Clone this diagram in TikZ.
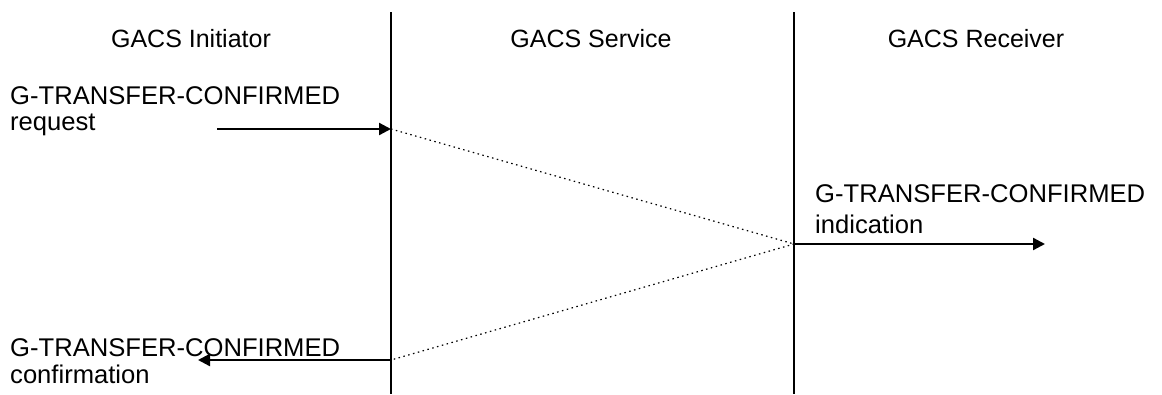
\documentclass[tikz,border=0pt]{standalone}
\usepackage{fontspec}
\setmainfont{Liberation Sans}
\usetikzlibrary{arrows.meta}
\begin{document}
\begin{tikzpicture}[x=1pt,y=-1pt,
  lbl/.style={inner sep=0pt,anchor=base west,font=\fontsize{25.6}{30}\selectfont},
  hdr/.style={inner sep=0pt,anchor=base,font=\fontsize{25}{30}\selectfont},
  life/.style={line width=2.3pt},
  msg/.style={line width=2.3pt,-{Triangle[length=12pt,width=12pt]}},
  dot/.style={line width=1.2pt,dash pattern=on 1.5pt off 3.5pt}]
\useasboundingbox (0,0) rectangle (1162,394);
% lifelines
\coordinate (iT) at (391,12);
\coordinate (iB) at (391,394);
\coordinate (rT) at (794,12);
\coordinate (rB) at (794,394);
\draw[life] (iT) -- (iB);
\draw[life] (rT) -- (rB);
% headers
\node[hdr] (hI) at (191,47) {GACS Initiator};
\node[hdr] (hS) at (591,47) {GACS Service};
\node[hdr] (hR) at (976,47) {GACS Receiver};
% labels
\node[lbl] (t1) at (10,104) {G-TRANSFER-CONFIRMED};
\node[lbl] (t1b) at (10,130) {request};
\node[lbl] (t2) at (815,202) {G-TRANSFER-CONFIRMED};
\node[lbl] (t2b) at (815,233) {indication};
\node[lbl] (t3) at (10,356) {G-TRANSFER-CONFIRMED};
\node[lbl] (t3b) at (10,383) {confirmation};
% message points
\coordinate (reqS) at (217,129);
\coordinate (reqE) at (391,129);
\coordinate (indS) at (794,244);
\coordinate (indE) at (1045,244);
\coordinate (cnfS) at (391,360);
\coordinate (cnfE) at (198,360);
\draw[msg] (reqS) -- (reqE);
\draw[dot] (reqE) -- (indS);
\draw[msg] (indS) -- (indE);
\draw[dot] (indS) -- (cnfS);
\draw[msg] (cnfS) -- (cnfE);
\end{tikzpicture}
\end{document}
